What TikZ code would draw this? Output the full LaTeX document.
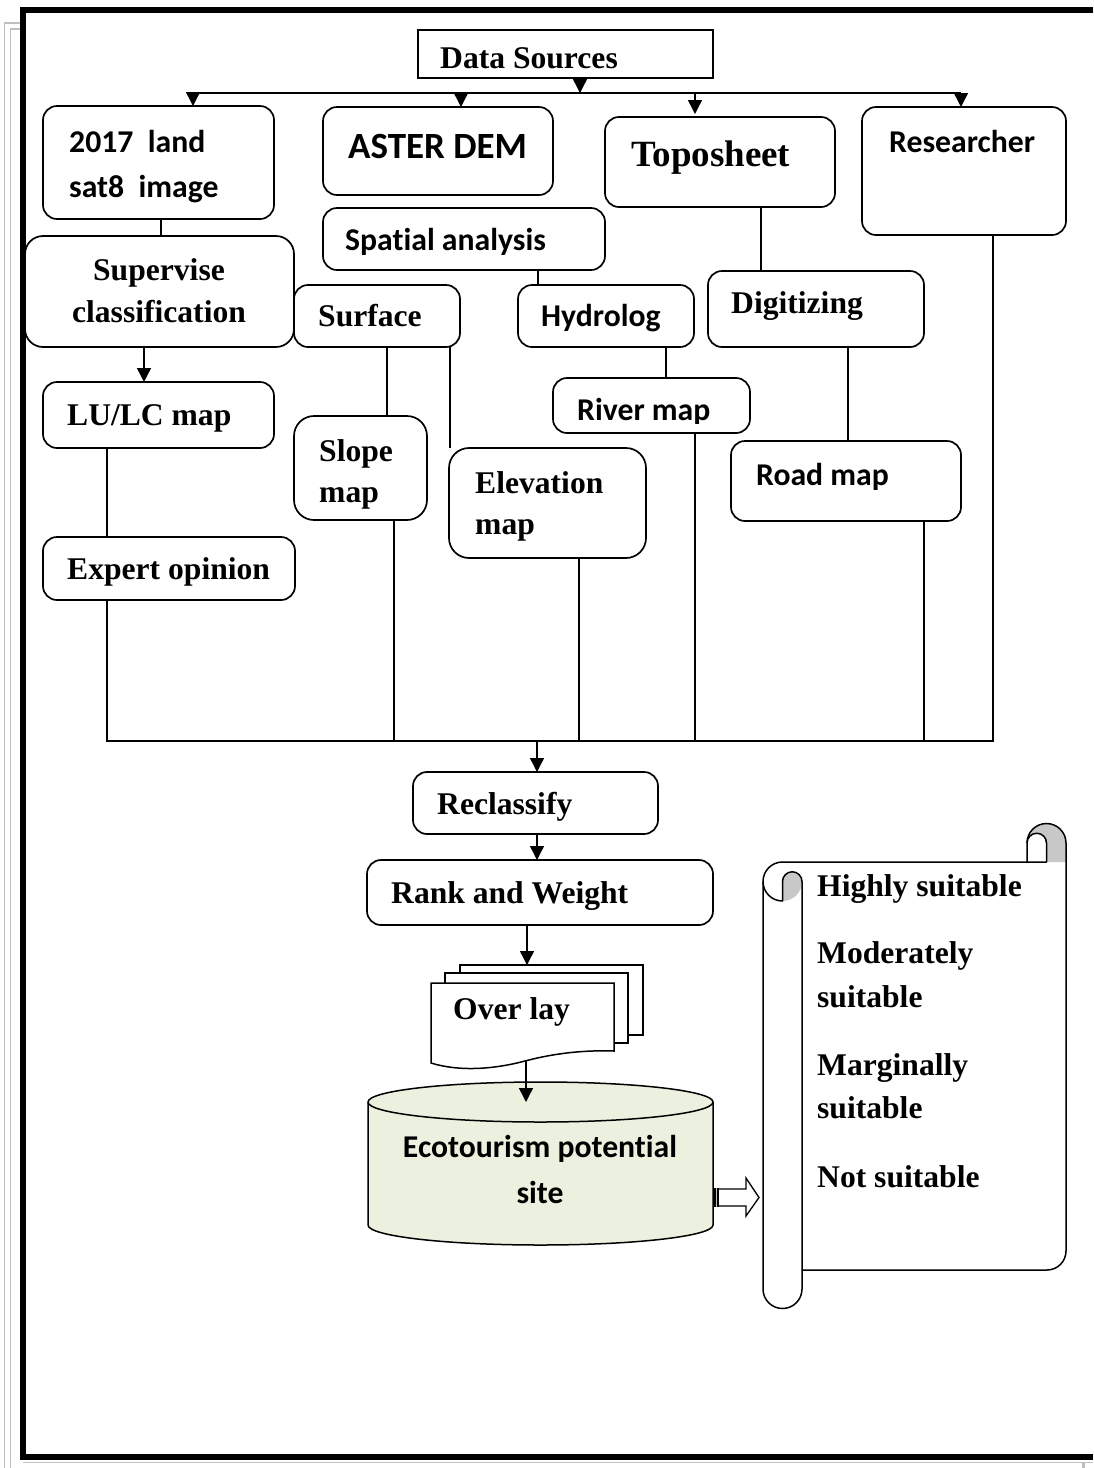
\documentclass[tikz,border=0pt]{standalone}
\usepackage{fontspec}
\newfontfamily\serfont{Liberation Serif}
\newfontfamily\calfont{Carlito}[Ligatures={NoCommon}]
\usetikzlibrary{arrows.meta}
\definecolor{ecogreen}{HTML}{EBF1DE}
\definecolor{curlgray}{HTML}{C8C8C8}
\definecolor{pagegray}{HTML}{BFBFBF}
\newcommand{\mybox}[6][rbox]{\node[#1, minimum width={#5-#3}, minimum height={#6-#4}] (#2) at ({(#3+#5)/2},{(#4+#6)/2}) {};}
\begin{document}
\begin{tikzpicture}[x=1pt,y=-1pt,
  rbox/.style={draw, line width=1.7pt, rounded corners=14pt, inner sep=0pt, outer sep=0pt},
  sbox/.style={draw, line width=1.7pt, inner sep=0pt, outer sep=0pt},
  ts/.style={anchor=base west, inner sep=0pt, font=\serfont\bfseries\fontsize{31.6}{38}\selectfont},
  tsc/.style={ts, anchor=base},
  tc/.style={anchor=base west, inner sep=0pt, font=\calfont\bfseries\fontsize{31.7}{38}\selectfont},
  tcc/.style={tc, anchor=base},
  conn/.style={line width=1.4pt},
  arr/.style={line width=1.4pt, -{Triangle[length=14pt,width=14pt]}},
  scl/.style={line width=1.5pt, line join=round}
  ]
\useasboundingbox (0,0) rectangle (1093,1468);
% page border
\draw[pagegray, line width=1.5pt] (22,23) -- (4.5,23) -- (4.5,1468);
\draw[pagegray, line width=1.5pt] (22,29) -- (10.5,29) -- (10.5,1468);
\draw[pagegray, line width=1.5pt] (23,1462.5) -- (1093,1462.5);
\draw[pagegray, line width=3pt] (1083,1462) -- (1083,1468);
\draw[line width=6pt] (1093,10) -- (23,10) -- (23,1457) -- (1093,1457);

% boxes
\mybox[sbox]{ds}{418}{30}{713}{78}
\mybox{sat}{43}{106}{274}{219}
\mybox{aster}{323}{107}{553}{195}
\mybox{topo}{605}{117}{835}{207}
\mybox{res}{862}{107}{1066}{235}
\mybox{spat}{323}{208}{605}{270}
\mybox[rbox,rounded corners=18pt]{sup}{25}{236}{294}{347}
\mybox{surf}{294}{285}{460}{347}
\mybox{hyd}{518}{285}{694}{347}
\mybox{dig}{708}{271}{924}{347}
\mybox{lulc}{43}{382}{274}{448}
\mybox{river}{553}{378}{750}{433}
\mybox[rbox,rounded corners=20pt]{slope}{294}{416}{427}{520}
\mybox[rbox,rounded corners=20pt]{elev}{449}{448}{646}{558}
\mybox{road}{731}{441}{961}{521}
\mybox{expert}{43}{537}{295}{600}
\mybox{recl}{413}{772}{658}{834}
\mybox{rank}{367}{860}{713}{925}

% texts
\node[ts] (tds) at (440,68) {Data Sources};
\node[tc] (tsat1) at (69,152) {2017~ land};
\node[tc] (tsat2) at (69,197) {sat8~ image};
\node[tsc] (tsup1) at (159,280) {Supervise};
\node[tsc] (tsup2) at (159,322) {classification};
\node[tc, font=\calfont\bfseries\fontsize{37}{44}\selectfont] (taster) at (348,158) {ASTER DEM};
\node[ts, font=\serfont\bfseries\fontsize{37}{44}\selectfont] (ttopo) at (631,166) {Toposheet};
\node[tc] (tres) at (889,152) {Researcher};
\node[tc] (tspat) at (345,250) {Spatial analysis};
\node[ts] (tsurf) at (318,326) {Surface};
\node[tc] (thyd) at (541,326) {Hydrolog};
\node[ts] (tdig) at (731,313) {Digitizing};
\node[ts] (tlulc) at (67,425) {LU/LC map};
\node[ts] (texp) at (67,579) {Expert opinion};
\node[ts] (tslope1) at (319,461) {Slope};
\node[ts] (tslope2) at (319,502) {map};
\node[ts] (telev1) at (475,493) {Elevation};
\node[ts] (telev2) at (475,534) {map};
\begin{scope}
\clip (553,378) rectangle (750,423);
\node[tc] (triver) at (577,420) {River map};
\end{scope}
\node[tc] (troad) at (756,485) {Road map};
\node[ts] (trecl) at (437,814) {Reclassify};
\node[ts] (trank) at (391,903) {Rank and Weight};

% x positions of connectors
\coordinate (X580) at (580,0);
\coordinate (X461) at (461,0);
\coordinate (X695) at (695,0);
\coordinate (X161) at (161,0);
\coordinate (X538) at (538,0);
\coordinate (X761) at (761,0);
\coordinate (X144) at (144,0);
\coordinate (X387) at (387,0);
\coordinate (X450) at (450,0);
\coordinate (X666) at (666,0);
\coordinate (X848) at (848,0);
\coordinate (X394) at (394,0);
\coordinate (X579) at (579,0);
\coordinate (X924) at (924,0);
\coordinate (X537) at (537,0);
\coordinate (X527) at (527,0);
\coordinate (X526) at (526,0);
% buses
\coordinate (bTL) at (193,93);
\coordinate (bTR) at (961,93);
\coordinate (bBL) at (107,741);
\coordinate (bBR) at (993,741);

\draw[arr] (ds.south -| X580) -- (bTL -| X580);
\draw[conn] (bTL) -- (bTR);
\draw[arr] (bTL) -- (sat.north -| bTL);
\draw[arr] (bTL -| X461) -- (aster.north -| X461);
\draw[arr, shorten >=3pt] (bTL -| X695) -- (topo.north -| X695);
\draw[arr] (bTR) -- (res.north -| bTR);

\draw[conn] (sat.south -| X161) -- (sup.north -| X161);
\draw[conn] (spat.south -| X538) -- (hyd.north -| X538);
\draw[conn] (topo.south -| X761) -- (dig.north -| X761);
\draw[arr] (sup.south -| X144) -- (lulc.north -| X144);
\draw[conn] (lulc.south -| bBL) -- (expert.north -| bBL);
\draw[conn] (surf.south -| X387) -- (slope.north -| X387);
\draw[conn] (surf.south -| X450) -- (elev.north -| X450);
\draw[conn] (hyd.south -| X666) -- (river.north -| X666);
\draw[conn] (dig.south -| X848) -- (road.north -| X848);

\draw[conn] (expert.south -| bBL) -- (bBL) -- (bBR) -- (res.south -| bBR);
\draw[conn] (slope.south -| X394) -- (bBL -| X394);
\draw[conn] (elev.south -| X579) -- (bBL -| X579);
\draw[conn] (river.south -| X695) -- (bBL -| X695);
\draw[conn] (road.south -| X924) -- (bBL -| X924);
\draw[arr] (bBL -| X537) -- (recl.north -| X537);
\draw[arr] (recl.south -| X537) -- (rank.north -| X537);

% overlay (multi document)
\mybox[sbox, line width=1.5pt, fill=white]{ovlc}{460}{965}{643}{1035}
\mybox[sbox, line width=1.5pt, fill=white]{ovlb}{445}{973}{628}{1043}
\draw[line width=1.5pt, fill=white] (431,983) -- (614,983) -- (614,1051)
  .. controls (585,1050) and (555,1053) .. (525,1061)
  .. controls (495,1069) and (460,1072) .. (431,1063) -- cycle;
\node[inner sep=0pt, outer sep=0pt, minimum width=183, minimum height=78] (ovl) at (522.5,1022) {};
\node[ts] (tovl) at (453,1019) {Over lay};
\draw[arr] (rank.south -| X527) -- (ovlc.north -| X527);

% cylinder
\draw[line width=1.5pt, fill=ecogreen] (368,1102) -- (368,1225)
  arc[start angle=180, end angle=0, x radius=172.5, y radius=20] -- (713,1102)
  arc[start angle=0, end angle=-180, x radius=172.5, y radius=20] -- cycle;
\draw[line width=1.5pt] (368,1102) arc[start angle=180, end angle=0, x radius=172.5, y radius=20];
\node[inner sep=0pt, outer sep=0pt, minimum width=345, minimum height=123] (eco) at (540.5,1163.5) {};
\node[tcc] (teco1) at (540,1157) {Ecotourism potential};
\node[tcc] (teco2) at (540,1203) {site};
\draw[arr] (ovl.south -| X526) -- (eco.north -| X526);

% block arrow to scroll
\fill (713,1188) rectangle (719,1207);
\draw[pagegray, line width=1pt] (716,1188) -- (716,1207);
\draw[line width=1.3pt, fill=white, line join=miter] (719,1189) -- (746,1189) -- (746,1178) -- (759,1197.5) -- (746,1216) -- (746,1206) -- (719,1206);

% vertical scroll
\path[fill=white] (802,1270) -- (1047,1270) arc[start angle=90,end angle=0,radius=19]
  -- (1066,843) arc[start angle=0,end angle=-180,radius=19.5] -- (1027,862) -- (782.5,862)
  arc[start angle=-90,end angle=-180,radius=19.5] -- (763,1289)
  arc[start angle=180,end angle=0,radius=19.5] -- cycle;
\fill[curlgray] (1027,862) -- (1027,843) arc[start angle=180,end angle=360,radius=19.5] -- (1066,862) -- cycle;
\fill[white] (1027,843) arc[start angle=180,end angle=360,radius=9.75] -- (1046.5,862) -- (1027,862) -- cycle;
\fill[curlgray] (782.5,901) -- (782.5,881.5) arc[start angle=180,end angle=360,radius=9.75]
  arc[start angle=0,end angle=90,radius=19.5] -- cycle;
\draw[scl] (802,1270) -- (1047,1270) arc[start angle=90,end angle=0,radius=19]
  -- (1066,843) arc[start angle=0,end angle=-180,radius=19.5] -- (1027,862) -- (782.5,862)
  arc[start angle=-90,end angle=-180,radius=19.5] -- (763,1289)
  arc[start angle=180,end angle=0,radius=19.5] -- cycle;
\draw[scl] (1027,843) arc[start angle=180,end angle=360,radius=9.75] -- (1046.5,862) -- (1027,862);
\draw[scl] (763,881.5) arc[start angle=180,end angle=90,radius=19.5] -- (782.5,881.5)
  arc[start angle=180,end angle=360,radius=9.75] -- (802,1270);
\node[ts] (th) at (817,896) {Highly suitable};
\node[ts] (tm1) at (817,963) {Moderately};
\node[ts] (tm2) at (817,1007) {suitable};
\node[ts] (tg1) at (817,1075) {Marginally};
\node[ts] (tg2) at (817,1118) {suitable};
\node[ts] (tn) at (817,1187) {Not suitable};
\end{tikzpicture}
\end{document}
